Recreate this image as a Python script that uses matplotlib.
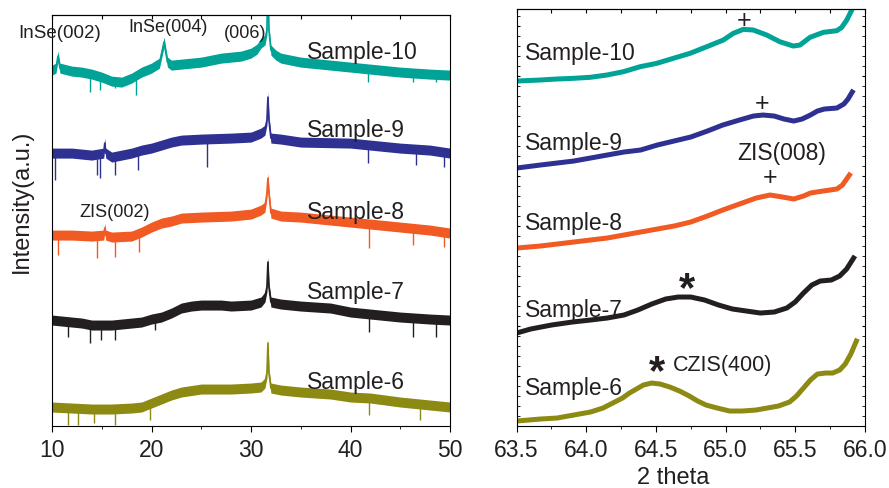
import numpy as np
import matplotlib
matplotlib.use("Agg")
import matplotlib.pyplot as plt
from matplotlib.ticker import MultipleLocator, NullFormatter, NullLocator

plt.rcParams['font.family'] = ['Liberation Sans', 'DejaVu Sans']
plt.rcParams['text.color'] = '#231f20'
plt.rcParams['axes.labelcolor'] = '#231f20'
plt.rcParams['xtick.labelcolor'] = '#231f20'

# ---- wide scan, 10-50 deg (intensity in a.u., traces already offset) ----
x10 = [10, 10.4, 10.6, 10.8, 12, 13, 14, 15, 16, 17, 18, 19, 20, 20.8, 21.26, 21.6, 22, 23, 24,
       25, 26, 27, 28, 29, 30, 30.6, 31.0, 31.4, 31.6, 31.7, 31.8, 32.0, 32.5, 33, 35, 37, 40,
       42, 45, 48, 50]
y10 = [356, 358, 370, 358, 355, 354, 352, 349, 345, 344, 348, 354, 358, 363, 384, 364, 361, 362,
       363, 364, 366, 368, 369, 370, 373, 377, 383, 386, 396, 450, 396, 376, 371, 368, 364, 362,
       359, 357, 354, 352, 351]
drops10 = [(13.8, 334), (14.8, 336), (16.3, 338), (18.4, 331), (41.8, 344), (46.3, 344), (48.6, 344)]

x9 = [10, 12, 14, 15.2, 15.3, 15.4, 16, 17, 18, 19, 20, 21, 22, 23, 25, 28, 30, 31, 31.4, 31.6,
      31.7, 31.8, 32.0, 33, 35, 40, 45, 48, 50]
y9 = [273, 273, 271, 273, 283, 273, 269, 271, 273, 276, 278, 281, 284, 286, 287, 288, 289, 293,
      296, 306, 329, 306, 288, 287, 284, 283, 278, 276, 273]
drops9 = [(10.3, 246), (14.5, 251), (14.8, 248), (16.3, 251), (18.6, 256), (25.6, 259),
          (41.8, 263), (46.6, 261), (49.4, 259)]

x8 = [10, 12, 14, 15.2, 15.3, 15.4, 16, 18, 19, 20, 21, 22, 23, 25, 28, 30, 31, 31.4, 31.6,
      31.7, 31.8, 32, 33, 35, 40, 45, 48, 50]
y8 = [191, 191, 190, 191, 198, 191, 189, 190, 194, 199, 203, 205, 208, 209, 210, 212, 216, 219,
      233, 248, 233, 213, 210, 209, 204, 199, 196, 193]
drops8 = [(10.6, 171), (14.5, 168), (16.3, 169), (18.7, 174), (41.9, 178), (46.3, 181), (49.4, 179)]

x7 = [10, 12, 13, 14, 16, 18, 19, 20, 21, 22, 23, 24, 25, 27, 28, 30, 31, 31.4, 31.6, 31.7,
      31.8, 32, 33, 35, 38, 40, 42, 45, 48, 50]
y7 = [106, 104, 103, 101, 101, 103, 104, 107, 109, 113, 118, 120, 121, 121, 120, 121, 124, 129,
      139, 164, 139, 124, 122, 120, 118, 114, 112, 109, 107, 106]
drops7 = [(11.6, 89), (13.8, 83), (14.9, 86), (16.3, 86), (20.4, 96), (41.9, 94), (46.3, 89),
          (48.6, 89)]

x6 = [10, 12, 14, 16, 18, 19, 20, 21, 22, 23, 25, 28, 30, 31, 31.4, 31.6, 31.7, 31.8, 32, 33,
      35, 38, 40, 42, 45, 48, 50]
y6 = [19, 18, 17, 17, 18, 19, 23, 27, 31, 34, 37, 37, 38, 39, 43, 53, 83, 53, 38, 36, 34, 32, 29,
      28, 24, 21, 19]
drops6 = [(11.6, 1), (12.6, 1), (14.2, 3), (16.3, 1), (19.8, 6), (41.9, 11), (47.0, 6)]

# ---- narrow scan, 63.5-66 deg ----
z10x = [63.5, 63.667, 63.787, 63.907, 64.027, 64.147, 64.266, 64.386, 64.506, 64.625, 64.745,
        64.865, 64.984, 65.056, 65.128, 65.2, 65.296, 65.39, 65.487, 65.535, 65.607, 65.703,
        65.799, 65.835, 65.871, 65.907, 65.93]
z10y = [345, 346, 347, 347.7, 348.7, 351, 354.3, 359.3, 362.7, 367.7, 372.7, 379.3, 386, 392.7,
        396.7, 396, 391, 384.3, 380, 381, 388.7, 393.7, 395.3, 398.7, 406, 416, 426]

z9x = [63.5, 63.67, 63.79, 63.91, 64.03, 64.15, 64.27, 64.39, 64.51, 64.63, 64.75, 64.87, 64.98,
       65.1, 65.2, 65.27, 65.35, 65.42, 65.49, 65.55, 65.61, 65.66, 65.71, 65.8, 65.85, 65.88,
       65.91]
z9y = [258, 261, 263, 265, 268, 271, 274, 276, 281, 285, 289, 295, 301, 306, 310, 311, 310, 307,
       305, 307, 311, 315, 317, 318, 322, 327, 334]

z8x = [63.5, 63.67, 63.79, 63.91, 64.03, 64.15, 64.27, 64.39, 64.51, 64.63, 64.75, 64.87, 64.98,
       65.1, 65.22, 65.32, 65.41, 65.49, 65.56, 65.61, 65.7, 65.8, 65.84, 65.87, 65.89]
z8y = [178, 180, 182, 184, 186, 188, 191, 194, 197, 200, 204, 210, 216, 222, 228, 231, 229, 227,
       230, 233, 235, 237, 241, 247, 251]

z7x = [63.5, 63.6, 63.75, 63.9, 64.03, 64.15, 64.27, 64.37, 64.47, 64.57, 64.66, 64.75, 64.85,
       64.95, 65.05, 65.15, 65.25, 65.35, 65.44, 65.5, 65.56, 65.62, 65.68, 65.76, 65.82, 65.87,
       65.92]
z7y = [93, 97, 101, 104, 106, 108, 111, 116, 122, 127, 129, 129, 126, 121, 117, 115, 113, 114,
       118, 124, 133, 141, 145, 146, 150, 157, 168]

z6x = [63.5, 63.67, 63.79, 63.91, 64.03, 64.12, 64.19, 64.26, 64.31, 64.36, 64.41, 64.47, 64.53,
       64.6, 64.67, 64.74, 64.8, 64.86, 64.94, 65.03, 65.12, 65.22, 65.3, 65.38, 65.46, 65.51,
       65.56, 65.61, 65.66, 65.72, 65.77, 65.82, 65.86, 65.9, 65.94]
z6y = [5, 7, 8, 11, 14, 18, 23, 28, 33, 37, 41, 43, 42, 39, 35, 30, 25, 21, 18, 15, 15, 16, 18,
       20, 24, 30, 38, 46, 52, 53, 53, 56, 62, 72, 85]

colors = ['#00a396', '#2e3192', '#f15a22', '#231f20', '#8c8a12']
names = ['Sample-10', 'Sample-9', 'Sample-8', 'Sample-7', 'Sample-6']

fig = plt.figure(figsize=(8.89, 4.88), dpi=100)
ax1 = fig.add_axes([0.0585, 0.127, 0.4477, 0.842])
ax2 = fig.add_axes([0.5812, 0.127, 0.3915, 0.8545])

wide = [(x10, y10, drops10), (x9, y9, drops9), (x8, y8, drops8), (x7, y7, drops7), (x6, y6, drops6)]
for (xs, ys, drops), c in zip(wide, colors):
    xs = np.array(xs, dtype=float)
    ys = np.array(ys, dtype=float)
    ax1.fill_between(xs, ys - 5, ys + 5, color=c, lw=0)
    ax1.plot(xs, ys, color=c, lw=1.2)
    for dx, dy in drops:
        ax1.vlines(dx, dy, np.interp(dx, xs, ys), color=c, lw=1.0)

ax1.set_xlim(10, 50)
ax1.set_ylim(0, 411)
ax1.xaxis.set_major_locator(MultipleLocator(10))
ax1.xaxis.set_minor_locator(MultipleLocator(5))
ax1.yaxis.set_major_locator(NullLocator())
ax1.tick_params(axis='x', which='both', direction='out', labelsize=16.5, pad=5)
ax1.tick_params(axis='x', which='major', length=4)
ax1.tick_params(axis='x', which='minor', length=2.5)
ax1.set_ylabel('Intensity(a.u.)', fontsize=17, va='center')
ax1.yaxis.set_label_coords(-0.075, 0.547)

# top ticks pointing in
top1 = ax1.secondary_xaxis('top')
top1.xaxis.set_major_locator(MultipleLocator(5))
top1.tick_params(direction='in', length=3, labeltop=False)
top1.xaxis.set_major_formatter(NullFormatter())

kw = dict(fontsize=16.5, va='center', ha='left')
for n, yy in zip(names, [374, 296, 214, 134, 44]):
    ax1.text(35.6, yy, n, **kw)
ax1.text(10.8, 393, 'InSe(002)', fontsize=13.5, ha='center', va='center')
ax1.text(21.66, 399, 'InSe(004)', fontsize=13, ha='center', va='center')
ax1.text(29.4, 393, '(006)', fontsize=13, ha='center', va='center')
ax1.text(12.8, 214, 'ZIS(002)', fontsize=13, ha='left', va='center')

narrow = [(z10x, z10y), (z9x, z9y), (z8x, z8y), (z7x, z7y), (z6x, z6y)]
for (xs, ys), c in zip(narrow, colors):
    ax2.plot(xs, ys, color=c, lw=3.6, solid_joinstyle='round')

ax2.set_xlim(63.5, 66.0)
ax2.set_ylim(0, 417)
ax2.xaxis.set_major_locator(MultipleLocator(0.5))
ax2.xaxis.set_minor_locator(MultipleLocator(0.25))
ax2.xaxis.set_major_formatter(plt.FormatStrFormatter('%.1f'))
ax2.yaxis.set_major_locator(MultipleLocator(50))
ax2.yaxis.set_minor_locator(MultipleLocator(10))
ax2.yaxis.set_major_formatter(NullFormatter())
ax2.tick_params(axis='x', which='both', direction='out', labelsize=16.5, pad=5)
ax2.tick_params(axis='x', which='major', length=4)
ax2.tick_params(axis='x', which='minor', length=2.5)
ax2.tick_params(axis='y', which='both', direction='in', left=True, right=True, length=2,
                labelleft=False)
ax2.set_xlabel('2 theta', fontsize=17, va='center')
ax2.xaxis.set_label_coords(0.449, -0.125)
top2 = ax2.secondary_xaxis('top')
top2.xaxis.set_major_locator(MultipleLocator(0.25))
top2.tick_params(direction='in', length=3, labeltop=False)
top2.xaxis.set_major_formatter(NullFormatter())

for n, yy in zip(names, [373, 283, 203, 116, 38]):
    ax2.text(63.56, yy, n, **kw)
ax2.text(65.13, 405, '+', fontsize=18, ha='center', va='center')
ax2.text(65.26, 322, '+', fontsize=18, ha='center', va='center')
ax2.text(65.32, 248, '+', fontsize=18, ha='center', va='center')
ax2.text(65.40, 273, 'ZIS(008)', fontsize=16.5, ha='center', va='center')
ax2.text(64.72, 136, '*', fontsize=30, fontweight='bold', ha='center', va='center')
ax2.text(64.51, 53, '*', fontsize=30, fontweight='bold', ha='center', va='center')
ax2.text(64.62, 61, 'CZIS(400)', fontsize=15.5, ha='left', va='center')

fig.savefig('out.png', dpi=100)
